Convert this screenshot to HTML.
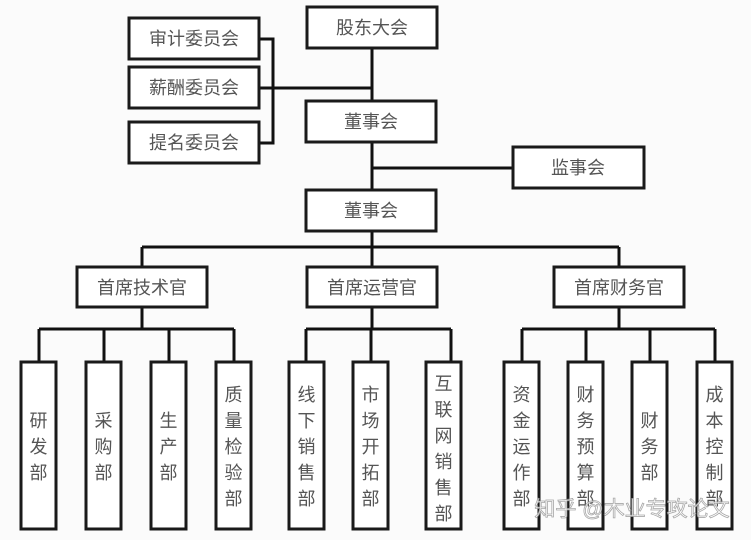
<!DOCTYPE html>
<html><head><meta charset="utf-8"><style>
html,body{margin:0;padding:0;background:#fbfbfb;}
svg{display:block;}
text{font-family:"Liberation Sans","Noto Sans CJK SC",sans-serif;font-size:18px;fill:#555;text-anchor:middle;}
.b{fill:#fff;stroke:#1a1a1a;stroke-width:3;}
.l{stroke:#111;stroke-width:3;fill:none;}
</style></head><body>
<svg width="751" height="540" viewBox="0 0 751 540" xmlns="http://www.w3.org/2000/svg">
<rect width="751" height="540" fill="#fbfbfb"/>
<!-- connectors -->
<path class="l" d="M372 48V101 M259 39H273V143H259 M259 88H373 M372 142V190 M372 168H513 M372 231V247 M142 247H619 M142 247V267 M372 247V267 M619 247V267
M142 307V329 M39 329H234 M39 329V362 M104 329V362 M169 329V362 M234 329V362
M372 307V329 M306 329H451 M306 329V362 M371 329V362 M451 329V362
M619 307V329 M522 329H715 M522 329V362 M586 329V362 M650 329V362 M715 329V362"/>
<!-- boxes -->
<rect class="b" x="307" y="7" width="130" height="41"/><text x="372" y="34">股东大会</text>
<rect class="b" x="129" y="18" width="130" height="41"/><text x="194" y="45">审计委员会</text>
<rect class="b" x="129" y="67" width="130" height="41"/><text x="194" y="94">薪酬委员会</text>
<rect class="b" x="129" y="122" width="130" height="41"/><text x="194" y="149">提名委员会</text>
<rect class="b" x="306" y="101" width="130" height="41"/><text x="371" y="128">董事会</text>
<rect class="b" x="513" y="147" width="131" height="41"/><text x="578" y="174">监事会</text>
<rect class="b" x="306" y="190" width="130" height="41"/><text x="371" y="217">董事会</text>
<rect class="b" x="77" y="267" width="130" height="40"/><text x="142" y="294">首席技术官</text>
<rect class="b" x="307" y="267" width="130" height="40"/><text x="372" y="294">首席运营官</text>
<rect class="b" x="554" y="267" width="130" height="40"/><text x="619" y="294">首席财务官</text>
<!-- departments -->
<g>
<rect class="b" x="21" y="362" width="35" height="167"/>
<rect class="b" x="86" y="362" width="35" height="167"/>
<rect class="b" x="151" y="362" width="35" height="167"/>
<rect class="b" x="216" y="362" width="35" height="167"/>
<rect class="b" x="289" y="362" width="35" height="167"/>
<rect class="b" x="353" y="362" width="35" height="167"/>
<rect class="b" x="426" y="362" width="35" height="167"/>
<rect class="b" x="504" y="362" width="35" height="167"/>
<rect class="b" x="568" y="362" width="35" height="167"/>
<rect class="b" x="632" y="362" width="35" height="167"/>
<rect class="b" x="697" y="362" width="35" height="167"/>
</g>
<text x="38.5"><tspan x="38.5" y="427">研</tspan><tspan x="38.5" y="453">发</tspan><tspan x="38.5" y="479">部</tspan></text>
<text><tspan x="103.5" y="427">采</tspan><tspan x="103.5" y="453">购</tspan><tspan x="103.5" y="479">部</tspan></text>
<text><tspan x="168.5" y="427">生</tspan><tspan x="168.5" y="453">产</tspan><tspan x="168.5" y="479">部</tspan></text>
<text><tspan x="233.5" y="401">质</tspan><tspan x="233.5" y="427">量</tspan><tspan x="233.5" y="453">检</tspan><tspan x="233.5" y="479">验</tspan><tspan x="233.5" y="505">部</tspan></text>
<text><tspan x="306.5" y="401">线</tspan><tspan x="306.5" y="427">下</tspan><tspan x="306.5" y="453">销</tspan><tspan x="306.5" y="479">售</tspan><tspan x="306.5" y="505">部</tspan></text>
<text><tspan x="370.5" y="401">市</tspan><tspan x="370.5" y="427">场</tspan><tspan x="370.5" y="453">开</tspan><tspan x="370.5" y="479">拓</tspan><tspan x="370.5" y="505">部</tspan></text>
<text><tspan x="443.5" y="390">互</tspan><tspan x="443.5" y="416">联</tspan><tspan x="443.5" y="442">网</tspan><tspan x="443.5" y="468">销</tspan><tspan x="443.5" y="494">售</tspan><tspan x="443.5" y="520">部</tspan></text>
<text><tspan x="521.5" y="401">资</tspan><tspan x="521.5" y="427">金</tspan><tspan x="521.5" y="453">运</tspan><tspan x="521.5" y="479">作</tspan><tspan x="521.5" y="505">部</tspan></text>
<text><tspan x="585.5" y="401">财</tspan><tspan x="585.5" y="427">务</tspan><tspan x="585.5" y="453">预</tspan><tspan x="585.5" y="479">算</tspan><tspan x="585.5" y="505">部</tspan></text>
<text><tspan x="649.5" y="427">财</tspan><tspan x="649.5" y="453">务</tspan><tspan x="649.5" y="479">部</tspan></text>
<text><tspan x="714.5" y="401">成</tspan><tspan x="714.5" y="427">本</tspan><tspan x="714.5" y="453">控</tspan><tspan x="714.5" y="479">制</tspan><tspan x="714.5" y="505">部</tspan></text>
<text x="632" y="516" style="font-size:21px;fill:#fff;stroke:#999;stroke-width:0.8;opacity:0.85">知乎 @木业专攻论文</text>
</svg>
</body></html>
